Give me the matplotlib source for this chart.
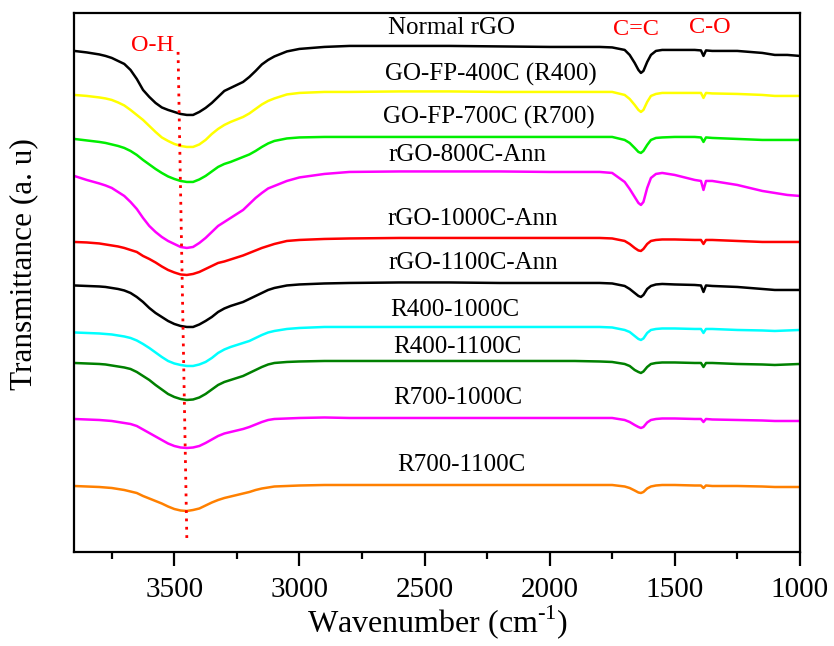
import matplotlib
matplotlib.use("Agg")
import matplotlib.pyplot as plt

plt.rcParams['font.family'] = ['Liberation Serif', 'DejaVu Serif']
plt.rcParams['mathtext.fontset'] = 'custom'
plt.rcParams['mathtext.rm'] = 'Liberation Serif'

# wavenumber grid (cm^-1)
wavenumber = [3900, 3850, 3800, 3775, 3750, 3725, 3700, 3675, 3650, 3625,
              3600, 3575, 3550, 3525, 3500, 3475, 3450, 3425, 3400, 3375,
              3350, 3325, 3300, 3275, 3250, 3225, 3200, 3175, 3150, 3125,
              3100, 3050, 3000, 2900,
              2800, 2600, 2400, 2200, 2000, 1900, 1800, 1750, 1700, 1680,
              1660, 1645, 1635, 1625, 1610, 1595, 1575, 1550, 1500, 1420,
              1395, 1385, 1375, 1350, 1250, 1150, 1100, 1050, 1000]

# stacked transmittance traces (offset units; larger value = lower on the plot)
normal_rgo = [51, 52.5, 54.5, 56, 58, 61, 64, 70, 79, 90,
              97, 103, 107.5, 110, 112, 114, 115, 115, 112, 108,
              103, 97, 91, 88, 85, 82, 77, 71, 64.5, 60,
              56.5, 51.5, 49, 47,
              46, 46, 46, 46.5, 47, 47, 47, 47.5, 50, 55,
              63, 70, 73, 71, 62, 55, 51, 50, 50, 50,
              50.5, 56, 50.5, 51, 51, 53, 55, 55, 56]
r400 = [95, 96, 97.5, 98.5, 100, 102.5, 105.5, 110, 115, 120,
        126, 132, 137.5, 141, 144, 146, 147, 147, 144.5, 140,
        134, 129, 125, 122, 119.5, 117, 113.5, 109, 104.5, 101,
        98.5, 94.5, 93, 92,
        92, 91.5, 91.5, 92, 92, 92, 92, 92, 95, 99,
        105, 110, 112, 110, 102, 96, 94, 93, 93, 93,
        93, 98, 93, 93.5, 94, 95, 96, 96, 96]
r700 = [139, 140.5, 142, 143, 144.5, 146, 148, 151, 155, 160,
        164.5, 169, 173, 176.5, 179, 181, 182, 182, 179.5, 176,
        171.5, 167, 164, 162, 159.5, 157, 154.5, 151, 147, 143.5,
        141, 138.5, 137.5, 137,
        137, 137, 137, 137, 137, 137, 137, 137, 140, 143,
        148, 152, 153, 151, 145, 140, 138, 137.5, 137, 137,
        137.5, 142, 137.5, 138, 139, 140, 140, 140, 140]
rgo_800 = [176, 180, 183.5, 185.5, 188, 192, 196, 202, 209, 218,
           226, 232, 237, 241, 244, 247, 248, 247, 243, 238,
           232, 226, 222, 218, 214, 210, 204, 198, 193, 188.5,
           186, 181, 177.5, 174,
           172, 171.5, 171.5, 171.5, 172, 172, 172, 173, 182, 189,
           197, 203, 205, 202, 188, 178, 174, 173, 175, 180,
           181, 190, 181, 181, 185, 191, 193, 195, 196]
rgo_1000 = [242, 242.5, 243.5, 244.5, 245.5, 246.5, 248, 250, 252, 256,
            259, 262.5, 266.5, 270, 272.5, 274.5, 275, 274, 272, 269,
            266, 263, 261.5, 259.5, 257.5, 255.5, 253, 250.5, 248, 246,
            244, 241, 240, 239,
            238.5, 238, 238, 238, 238, 238, 238, 238.5, 241, 244,
            248, 250.5, 251, 249, 244, 241, 240, 239.5, 239.5, 240,
            240, 244, 240, 240, 241, 242, 242, 242, 242]
rgo_1100 = [285.5, 286, 286.5, 287, 288, 289, 290.5, 293, 297, 302,
            308, 313, 317, 321, 324, 326, 327, 327, 324.5, 321,
            317, 312, 308.5, 306, 304, 302, 299, 296, 293, 290,
            288, 285.5, 284.5, 283.5,
            283, 282.5, 282.5, 283, 283, 283, 283, 283.5, 286, 289,
            293, 296, 297, 295, 289, 286, 284.5, 284, 284.5, 285,
            285.5, 292, 285.5, 286, 287, 289, 290, 290, 290]
r400_1000 = [332.5, 333, 333.5, 334, 334.5, 335.5, 336.5, 338, 340.5, 344,
             348, 352.5, 357, 361, 363.5, 365, 366, 366, 364.5, 362,
             358, 353, 349.5, 347, 345, 343, 341, 338, 335, 332.5,
             331, 329, 328, 327,
             327, 327, 327, 327, 327, 327, 327, 327.5, 330, 332,
             336, 339, 340, 338.5, 333, 330, 329, 328.5, 328.5, 329,
             329, 333, 329, 329, 330, 330.5, 331, 330.5, 330]
r400_1100 = [363, 363.5, 364, 364.5, 365.5, 366.5, 367.5, 369, 372, 376,
             380, 385, 389.5, 394, 397, 399, 400, 399.5, 397.5, 394,
             389.5, 385, 382, 380, 378, 376, 373, 370, 367, 364.5,
             363, 362, 361.5, 361,
             361, 361, 361, 361, 361, 361, 361.5, 362, 364, 366,
             370, 372, 373, 371.5, 367, 364, 363, 362.5, 362.5, 363,
             363, 367, 363, 363, 364, 364.5, 365, 364.5, 364]
r700_1000 = [419, 419.5, 420, 420.5, 421, 422, 423, 424, 426, 429.5,
             433, 436.5, 440, 443.5, 446, 447.5, 448, 447.5, 446, 443,
             439.5, 436, 433.5, 432, 430.5, 429, 427, 424.5, 422, 420,
             419, 418.5, 418, 417.5,
             418, 418, 418, 418, 418, 418, 418, 418, 420, 422,
             425, 427, 428, 427, 422.5, 420, 419, 418.5, 418.5, 419,
             419, 422, 419, 419.5, 420, 420.5, 421, 421, 421]
r700_1100 = [486, 486.5, 487, 487.5, 488, 489, 490, 491.5, 493, 496,
             498.5, 501, 503.5, 506.5, 509, 510.5, 511, 510, 508.5, 505.5,
             502.5, 500, 498, 496.5, 495, 493.5, 492, 490, 488.5, 487.5,
             486.5, 486, 485.5, 485,
             485, 485, 485, 485, 485, 485, 485, 485, 486.5, 488,
             490.5, 492.5, 493, 492, 488.5, 486.5, 485.5, 485, 485, 485.5,
             485.5, 488, 485.5, 486, 486, 486.5, 487, 487, 487]

series = [normal_rgo, r400, r700, rgo_800, rgo_1000, rgo_1100,
          r400_1000, r400_1100, r700_1000, r700_1100]
series_names = ["Normal rGO", "GO-FP-400C (R400)", "GO-FP-700C (R700)",
                "rGO-800C-Ann", "rGO-1000C-Ann", "rGO-1100C-Ann",
                "R400-1000C", "R400-1100C", "R700-1000C", "R700-1100C"]
colors = ["#000000", "#ffff00", "#00ee00", "#ff00ff", "#ff0000",
          "#000000", "#00ffff", "#008000", "#ff00ff", "#ff8000"]
# label anchor (wavenumber, level)
label_x = [2393, 2233, 2241, 2329, 2309, 2305, 2377, 2369, 2369, 2353]
label_y = [28, 75, 118, 155, 219, 263, 310, 347, 398, 465]

band_names = ["O-H", "C=C", "C-O"]
band_x = [3589, 1655, 1359]
band_y = [46, 30, 28]
oh_line_x = [3485, 3450]
oh_line_y = [52, 538]

fig = plt.figure(figsize=(8.34, 6.46), dpi=100)
ax = fig.add_axes([0.0884, 0.1455, 0.8706, 0.8345])

for ys, c in zip(series, colors):
    ax.plot(wavenumber, ys, color=c, lw=1.8)

for name, x, y in zip(series_names, label_x, label_y):
    ax.text(x, y, name, ha='center', va='center', fontsize=18, color='black')

for name, x, y in zip(band_names, band_x, band_y):
    ax.text(x, y, name, ha='center', va='center', fontsize=17.5, color='red')

ax.plot(oh_line_x, oh_line_y, color='red', lw=2.0, linestyle=(0, (1, 2)))

ax.set_xlim(3902, 1000)
ax.set_ylim(552, 13)
ax.set_xticks([3500, 3000, 2500, 2000, 1500, 1000])
ax.set_xticks([3750, 3250, 2750, 2250, 1750, 1250], minor=True)
ax.set_yticks([])
ax.tick_params(axis='x', which='major', direction='out', length=10, width=1.6,
               labelsize=21, pad=8, top=False)
ax.tick_params(axis='x', which='minor', direction='out', length=5, width=1.6, top=False)
for s in ax.spines.values():
    s.set_linewidth(1.6)

fig.text(438 / 834, 1 - 622 / 646, "Wavenumber (cm$^{\\mathregular{\u20101}}$)",
         ha='center', va='center', fontsize=23)
fig.text(24 / 834, 1 - 264 / 646, "Transmittance (a. u)", rotation=90,
         ha='center', va='center', fontsize=22.5)

fig.savefig("out.png", dpi=100)
